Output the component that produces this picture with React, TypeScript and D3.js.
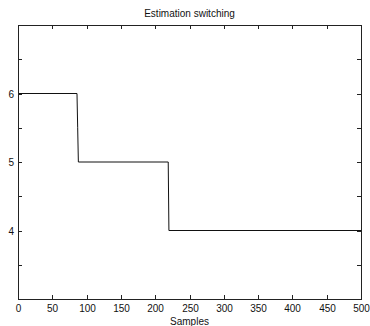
import React from "react";
import * as d3 from "d3";

// Estimated parameter over samples (plotted point-to-point)
const samples = [0, 86, 87, 88, 219, 220, 500];
const estimate = [6, 6, 5.5, 5, 5, 4, 4];

const xTicks = [0, 50, 100, 150, 200, 250, 300, 350, 400, 450, 500];
const yTicks = [3.5, 4, 4.5, 5, 5.5, 6, 6.5];
const yLabeled = [4, 5, 6];

const W = 370;
const H = 326;
const left = 18;
const right = 361;
const top = 25;
const bottom = 299;
const tickLen = 4;
const font = "Arial, 'Liberation Sans', sans-serif";

export default function App() {
  const x = d3.scaleLinear().domain([0, 500]).range([left, right]);
  const y = d3.scaleLinear().domain([3, 7]).range([bottom, top]);
  const line = d3
    .line<number>()
    .x((_, i) => x(samples[i]))
    .y((d) => y(d));

  return (
    <svg
      width={W}
      height={H}
      style={{ position: "absolute", left: 0, top: 0, background: "#fff" }}
      fontFamily={font}
    >
      <rect x={0} y={0} width={W} height={H} fill="#fff" />
      <text x={(left + right) / 2} y={17} textAnchor="middle" fontSize={10} fill="#111">
        Estimation switching
      </text>
      <path d={line(estimate) ?? ""} fill="none" stroke="#111" strokeWidth={1} />
      <rect
        x={left + 0.5}
        y={top + 0.5}
        width={right - left}
        height={bottom - top}
        fill="none"
        stroke="#222"
        strokeWidth={1}
      />
      {xTicks.map((t) => {
        const px = Math.round(x(t)) + 0.5;
        return (
          <g key={"x" + t}>
            <line x1={px} x2={px} y1={bottom} y2={bottom - tickLen} stroke="#222" />
            <line x1={px} x2={px} y1={top} y2={top + tickLen} stroke="#222" />
            <text x={px} y={bottom + 13} textAnchor="middle" fontSize={10} fill="#111">
              {t}
            </text>
          </g>
        );
      })}
      {yTicks.map((t) => {
        const py = Math.round(y(t)) + 0.5;
        return (
          <g key={"y" + t}>
            <line x1={left} x2={left + tickLen} y1={py} y2={py} stroke="#222" />
            <line x1={right} x2={right - tickLen} y1={py} y2={py} stroke="#222" />
            {yLabeled.includes(t) && (
              <text x={left - 4} y={py + 3.5} textAnchor="end" fontSize={10} fill="#111">
                {t}
              </text>
            )}
          </g>
        );
      })}
      <text x={(left + right) / 2} y={bottom + 26} textAnchor="middle" fontSize={10} fill="#111">
        Samples
      </text>
    </svg>
  );
}
